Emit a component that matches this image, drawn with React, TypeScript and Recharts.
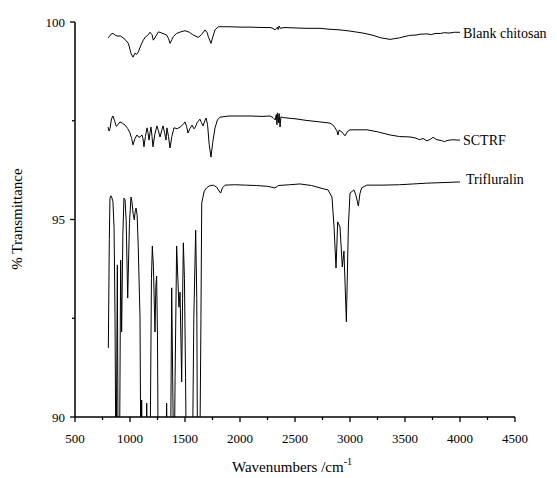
import { LabelList, Line, LineChart, XAxis, YAxis } from "recharts";

type Pt = { w: number; v: number };

const toPts = (rows: number[][]): Pt[] => rows.map(([w, v]) => ({ w, v }));

// % transmittance, [wavenumber, value]
const blankChitosan = toPts([
  [800, 99.6], [815, 99.64], [830, 99.7], [845, 99.71], [870, 99.66], [890, 99.64], [910, 99.65],
  [927, 99.62], [955, 99.56], [985, 99.46], [1010, 99.2], [1027, 99.11], [1045, 99.21],
  [1060, 99.18], [1075, 99.24], [1100, 99.42], [1121, 99.54], [1140, 99.62], [1160, 99.66],
  [1182, 99.74], [1200, 99.68], [1212, 99.54], [1230, 99.62], [1258, 99.75], [1290, 99.72],
  [1333, 99.67], [1350, 99.58], [1364, 99.46], [1380, 99.55], [1394, 99.63], [1424, 99.71],
  [1460, 99.75], [1500, 99.78], [1540, 99.74], [1570, 99.68], [1591, 99.65], [1620, 99.61],
  [1650, 99.68], [1682, 99.8], [1700, 99.74], [1712, 99.63], [1736, 99.46], [1755, 99.64],
  [1773, 99.8], [1803, 99.88], [1900, 99.88], [2000, 99.87], [2100, 99.87], [2200, 99.86],
  [2273, 99.86], [2300, 99.84], [2318, 99.8], [2330, 99.83], [2340, 99.87], [2348, 99.81],
  [2356, 99.9], [2366, 99.84], [2400, 99.86], [2500, 99.85], [2600, 99.84], [2727, 99.84],
  [2800, 99.82], [2909, 99.8], [3000, 99.77], [3118, 99.72], [3200, 99.67], [3280, 99.6],
  [3364, 99.56], [3450, 99.6], [3540, 99.66], [3600, 99.67], [3636, 99.69], [3700, 99.7],
  [3740, 99.68], [3773, 99.71], [3820, 99.71], [3860, 99.73], [3900, 99.72], [3950, 99.74],
  [4000, 99.74],
]);

const sctrf = toPts([
  [800, 97.34], [810, 97.24], [818, 97.3], [832, 97.55], [845, 97.62], [860, 97.5], [875, 97.36],
  [890, 97.4], [909, 97.47], [930, 97.44], [955, 97.39], [980, 97.3], [1000, 97.19],
  [1015, 97.05], [1027, 96.89], [1045, 97.05], [1064, 97.14], [1080, 97.08], [1091, 97.09],
  [1100, 97.12], [1109, 97.14], [1118, 97.05], [1127, 96.84], [1140, 97.1], [1155, 97.32],
  [1164, 97.2], [1173, 97.01], [1182, 97.2], [1191, 97.34], [1200, 97.1], [1209, 96.84],
  [1225, 97.15], [1245, 97.37], [1258, 97.25], [1273, 97.09], [1288, 97.25], [1300, 97.37],
  [1315, 97.2], [1327, 97.01], [1336, 97.32], [1350, 97.1], [1364, 96.81], [1380, 97.1],
  [1400, 97.32], [1430, 97.3], [1455, 97.34], [1480, 97.4], [1500, 97.47], [1515, 97.35],
  [1527, 97.19], [1545, 97.3], [1564, 97.39], [1580, 97.3], [1591, 97.32], [1610, 97.45],
  [1636, 97.54], [1650, 97.45], [1664, 97.37], [1680, 97.5], [1691, 97.57], [1705, 97.4],
  [1720, 96.9], [1736, 96.58], [1752, 96.95], [1773, 97.32], [1795, 97.52], [1818, 97.59],
  [1900, 97.62], [2000, 97.62], [2100, 97.62], [2200, 97.61], [2273, 97.62], [2300, 97.58],
  [2320, 97.52], [2330, 97.66], [2336, 97.4], [2342, 97.7], [2350, 97.45], [2356, 97.68],
  [2364, 97.34], [2372, 97.6], [2390, 97.58], [2500, 97.55], [2600, 97.51], [2727, 97.47],
  [2818, 97.44], [2850, 97.38], [2864, 97.32], [2880, 97.25], [2891, 97.14], [2900, 97.26],
  [2925, 97.22], [2955, 97.12], [2975, 97.22], [3000, 97.27], [3155, 97.27], [3250, 97.22],
  [3364, 97.14], [3450, 97.1], [3545, 97.09], [3600, 97.06], [3630, 97.02], [3664, 97.05],
  [3700, 96.99], [3730, 97.03], [3755, 97.08], [3790, 97.02], [3830, 97.0], [3860, 96.97],
  [3882, 97.0], [3930, 97.02], [3982, 97.01], [4000, 97.01],
]);

const trifluralin = toPts([
  [803, 91.75], [812, 94.5], [818, 95.54], [826, 95.6], [833, 95.57], [845, 95.45], [855, 94.8],
  [864, 92.5], [873, 88.0], [885, 93.85], [893, 88.0], [903, 88.0], [915, 93.97], [924, 92.15],
  [935, 94.6], [945, 95.54], [955, 95.5], [965, 95.0], [979, 93.01], [995, 94.9],
  [1009, 95.57], [1018, 95.45], [1028, 95.15], [1039, 94.99], [1047, 95.2], [1055, 95.29],
  [1065, 95.1], [1075, 94.3], [1091, 92.51], [1100, 88.0], [1106, 90.43], [1115, 88.0],
  [1140, 88.0], [1152, 90.35], [1162, 88.0], [1180, 88.0], [1195, 93.5], [1203, 94.33],
  [1213, 93.8], [1227, 92.15], [1235, 93.3], [1242, 93.57], [1250, 92.0], [1258, 88.0],
  [1320, 88.0], [1333, 90.35], [1345, 88.0], [1368, 88.5], [1379, 93.27], [1390, 90.5],
  [1400, 88.0], [1410, 91.0], [1424, 94.33], [1435, 93.5], [1445, 92.78], [1455, 93.16],
  [1470, 90.89], [1478, 93.0], [1485, 94.41], [1495, 93.5], [1505, 91.0], [1515, 88.0],
  [1565, 88.0], [1580, 92.5], [1597, 94.73], [1607, 93.0], [1615, 88.0], [1632, 88.0],
  [1645, 92.5], [1652, 95.42], [1675, 95.72], [1697, 95.8], [1720, 95.85], [1758, 95.87],
  [1788, 95.82], [1810, 95.72], [1824, 95.67], [1840, 95.8], [1864, 95.87], [1950, 95.88],
  [2050, 95.87], [2150, 95.86], [2250, 95.84], [2318, 95.8], [2350, 95.86], [2450, 95.88],
  [2545, 95.9], [2650, 95.86], [2727, 95.8], [2800, 95.75], [2836, 95.57], [2855, 94.81],
  [2873, 93.77], [2888, 94.94], [2909, 94.81], [2930, 93.8], [2945, 94.2], [2967, 92.41],
  [2985, 94.81], [3000, 95.67], [3036, 95.75], [3055, 95.6], [3076, 95.34], [3090, 95.65],
  [3106, 95.8], [3152, 95.87], [3300, 95.87], [3450, 95.88], [3576, 95.9], [3697, 95.92],
  [3800, 95.93], [3900, 95.94], [3985, 95.95], [4000, 95.95],
]);

const xTicks = [500, 750, 1000, 1250, 1500, 1750, 2000, 2250, 2500, 2750, 3000, 3250, 3500, 3750, 4000, 4250, 4500];
const yTicks = [90, 92.5, 95, 97.5, 100];

const font = "'Liberation Serif', 'Times New Roman', serif";

function XTick({ x, y, payload }: any) {
  const major = payload.value % 500 === 0;
  return (
    <g>
      <line x1={x} x2={x} y1={y} y2={y + (major ? 5 : 3)} stroke="#000" strokeWidth={1.3} />
      {major ? (
        <text x={x} y={y + 26} textAnchor="middle" fontSize={13} fontFamily={font} fill="#000">
          {payload.value}
        </text>
      ) : null}
    </g>
  );
}

function YTick({ x, y, payload }: any) {
  const major = payload.value % 5 === 0;
  return (
    <g>
      <line x1={x} x2={x - (major ? 5 : 3)} y1={y} y2={y} stroke="#000" strokeWidth={1.3} />
      {major ? (
        <text x={x - 10} y={y + 4.5} textAnchor="end" fontSize={13} fontFamily={font} fill="#000">
          {payload.value}
        </text>
      ) : null}
    </g>
  );
}

function endLabel(text: string, dx: number, dy: number, last: number) {
  return (props: any) => {
    if (props.index !== last) return null;
    return (
      <text
        x={props.x + dx}
        y={props.y + dy}
        fontSize={14}
        fontFamily={font}
        fill="#000"
        dominantBaseline="central"
      >
        {text}
      </text>
    );
  };
}

export default function App() {
  return (
    <div style={{ position: "absolute", left: 0, top: 0, width: 557, height: 478, background: "#fff" }}>
      <LineChart width={557} height={478} margin={{ top: 22, right: 42, bottom: 0, left: 15 }}>
        <XAxis
          type="number"
          dataKey="w"
          domain={[500, 4500]}
          ticks={xTicks}
          interval={0}
          allowDataOverflow
          height={61}
          tickSize={0}
          tickMargin={0}
          tickLine={false}
          tick={<XTick />}
          axisLine={{ stroke: "#000", strokeWidth: 1.5 }}
        />
        <YAxis
          type="number"
          domain={[90, 100]}
          ticks={yTicks}
          interval={0}
          allowDataOverflow
          width={60}
          tickSize={0}
          tickMargin={0}
          tickLine={false}
          tick={<YTick />}
          axisLine={{ stroke: "#000", strokeWidth: 1.5 }}
        />
        <Line
          data={blankChitosan}
          dataKey="v"
          type="linear"
          stroke="#000"
          strokeWidth={1}
          dot={false}
          isAnimationActive={false}
        >
          <LabelList dataKey="v" content={endLabel("Blank chitosan", 3, 1, blankChitosan.length - 1)} />
        </Line>
        <Line
          data={sctrf}
          dataKey="v"
          type="linear"
          stroke="#000"
          strokeWidth={1}
          dot={false}
          isAnimationActive={false}
        >
          <LabelList dataKey="v" content={endLabel("SCTRF", 3, 0, sctrf.length - 1)} />
        </Line>
        <Line
          data={trifluralin}
          dataKey="v"
          type="linear"
          stroke="#000"
          strokeWidth={1}
          dot={false}
          isAnimationActive={false}
        >
          <LabelList dataKey="v" content={endLabel("Trifluralin", 6, -2, trifluralin.length - 1)} />
        </Line>
        <text
          x={17}
          y={219}
          transform="rotate(-90 17 219)"
          textAnchor="middle"
          dominantBaseline="central"
          fontSize={15}
          fontFamily={font}
          fill="#000"
        >
          % Transmittance
        </text>
        <text x={292} y={472} textAnchor="middle" fontSize={15} fontFamily={font} fill="#000">
          Wavenumbers /cm
          <tspan fontSize={10} dy={-7}>
            -1
          </tspan>
        </text>
      </LineChart>
    </div>
  );
}
